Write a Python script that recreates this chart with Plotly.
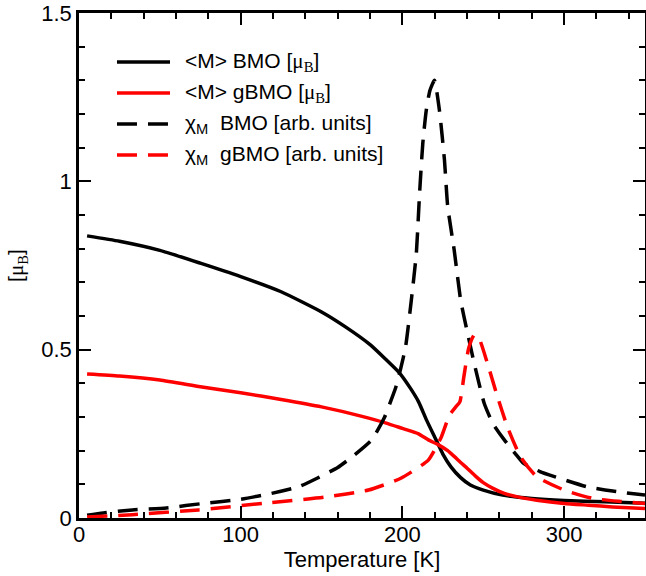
import plotly.graph_objects as go

# <M> BMO [mu_B]
t_m_bmo = [5, 25, 50, 75, 100, 125, 150, 165, 180, 190, 198, 205, 210, 215, 220, 225, 230, 236, 242, 250, 262, 280, 300, 325, 350]
m_bmo = [0.838, 0.822, 0.795, 0.757, 0.717, 0.672, 0.612, 0.567, 0.515, 0.47, 0.432, 0.385, 0.345, 0.29, 0.24, 0.19, 0.152, 0.12, 0.098, 0.083, 0.068, 0.058, 0.052, 0.048, 0.044]

# <M> gBMO [mu_B]
t_m_gbmo = [5, 25, 50, 75, 100, 125, 150, 175, 190, 200, 210, 216, 222, 228, 232, 236, 240, 245, 250, 256, 263, 272, 283, 300, 315, 330, 350]
m_gbmo = [0.428, 0.422, 0.41, 0.39, 0.372, 0.352, 0.33, 0.302, 0.282, 0.266, 0.25, 0.232, 0.218, 0.2, 0.183, 0.165, 0.148, 0.125, 0.105, 0.088, 0.073, 0.062, 0.053, 0.043, 0.038, 0.033, 0.028]

# chi_M BMO [arb. units]
t_chi_bmo = [5, 15, 33, 54, 78, 99, 119, 136, 148, 160, 169, 181, 189, 193, 196, 199, 202, 205.5, 208.6, 210.6, 212.6, 214.7, 217, 219.8, 222.9, 226, 228, 232, 236, 240, 244.4, 250.6, 256, 263, 270, 275, 285, 294, 314, 330, 350]
chi_bmo = [0.008, 0.015, 0.024, 0.03, 0.044, 0.055, 0.073, 0.093, 0.12, 0.15, 0.182, 0.232, 0.30, 0.35, 0.39, 0.445, 0.51, 0.647, 0.786, 0.964, 1.113, 1.21, 1.27, 1.30, 1.21, 1.063, 0.925, 0.796, 0.647, 0.555, 0.459, 0.34, 0.28, 0.232, 0.19, 0.162, 0.138, 0.123, 0.093, 0.08, 0.068]

# chi_M gBMO [arb. units]
t_chi_gbmo = [5, 33, 74, 115, 152, 179, 199, 216, 224, 229, 233, 235.5, 238, 241, 244.4, 247.5, 252.6, 258.8, 264.9, 273, 283, 300, 318, 335, 350]
chi_gbmo = [0.003, 0.01, 0.024, 0.044, 0.062, 0.083, 0.118, 0.172, 0.24, 0.305, 0.33, 0.345, 0.42, 0.505, 0.544, 0.532, 0.459, 0.36, 0.271, 0.182, 0.123, 0.083, 0.058, 0.049, 0.043]

x_ticks = [0, 100, 200, 300]
y_ticks = [0, 0.5, 1, 1.5]
y_tick_labels = ["0", "0.5", "1", "1.5"]

MU = "<span style=\"font-family:'Liberation Serif'\">μ<sub>B</sub></span>"
labels = [
    "&lt;M&gt; BMO [" + MU + "]",
    "&lt;M&gt; gBMO [" + MU + "]",
    "χ<sub>M</sub>&nbsp; BMO [arb. units]",
    "χ<sub>M</sub>&nbsp; gBMO [arb. units]",
]
colors = ["black", "#ff0000", "black", "#ff0000"]
DASH = "20px,11px"
dashes = ["solid", "solid", DASH, DASH]
LW = 3.5

fig = go.Figure()
series = [(t_m_bmo, m_bmo), (t_m_gbmo, m_gbmo), (t_chi_bmo, chi_bmo), (t_chi_gbmo, chi_gbmo)]
for (xs, ys), lab, c, d in zip(series, labels, colors, dashes):
    fig.add_trace(go.Scatter(x=xs, y=ys, mode="lines", name=lab, showlegend=False,
                             line=dict(color=c, width=LW, dash=d, shape="spline", smoothing=0.5)))

FONT = "Liberation Sans, Arial, Helvetica, sans-serif"

# Manual legend (paper coordinates)
leg_y = [0.903, 0.8416, 0.780, 0.7188]
shapes = []
annotations = []
for yy, lab, c, d in zip(leg_y, labels, colors, dashes):
    shapes.append(dict(type="line", xref="paper", yref="paper", x0=0.0671, x1=0.1608, y0=yy, y1=yy,
                       line=dict(color=c, width=LW, dash=d)))
    annotations.append(dict(xref="paper", yref="paper", x=0.1837, y=yy, xanchor="left", yanchor="middle",
                            text=lab, showarrow=False, font=dict(family=FONT, size=21, color="black")))

axis_common = dict(
    showline=True, linecolor="black", linewidth=2.5, mirror="allticks",
    ticks="inside", ticklen=12, tickwidth=2, tickcolor="black",
    showgrid=False, zeroline=False, ticklabeloverflow="allow",
    tickfont=dict(family=FONT, size=22, color="black"),
)

fig.update_layout(
    width=646, height=576,
    margin=dict(l=79, r=1, t=13, b=58),
    paper_bgcolor="white", plot_bgcolor="white",
    shapes=shapes, annotations=annotations,
    xaxis=dict(range=[0, 350], tickvals=x_ticks,
               minor=dict(dtick=20, tick0=0, ticklen=6, tickwidth=2, ticks="inside", tickcolor="black", showgrid=False),
               title=dict(text="Temperature [K]", font=dict(family=FONT, size=22, color="black"), standoff=0),
               ticklabelstandoff=-5,
               automargin=False, **axis_common),
    yaxis=dict(range=[0, 1.5], tickvals=y_ticks, ticktext=y_tick_labels,
               minor=dict(dtick=0.1, tick0=0, ticklen=6, tickwidth=2, ticks="inside", tickcolor="black", showgrid=False),
               title=dict(text="[" + MU + "]", font=dict(family=FONT, size=21, color="black"), standoff=12),
               automargin=False, **axis_common),
    showlegend=False,
)

# remove the page's default body margin so the figure fills the window exactly
fig.write_html("out.html",
               config={"displayModeBar": False},
               post_script="document.body.style.margin='0';document.body.style.overflow='hidden';")
